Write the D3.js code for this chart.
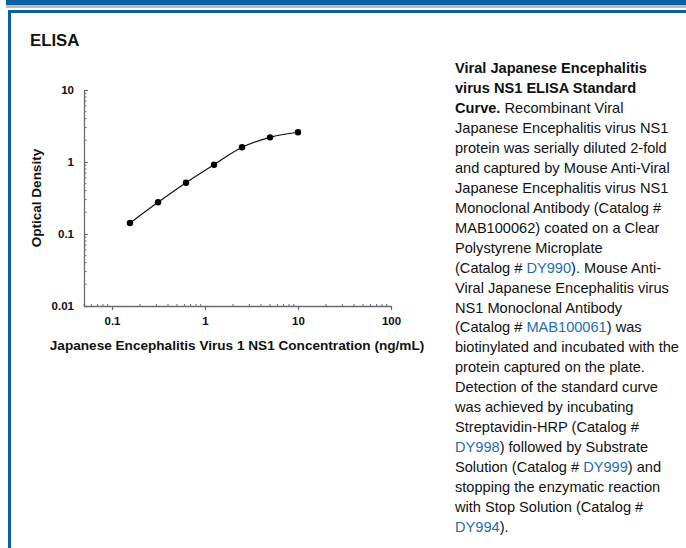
<!DOCTYPE html>
<html>
<head>
<meta charset="utf-8">
<script src="https://cdn.jsdelivr.net/npm/d3@7"></script>
<style>
  html, body { margin: 0; padding: 0; background: #fff; }
  svg { display: block; }
</style>
</head>
<body>
<svg id="chart" width="686" height="548"></svg>
<script>
// ---- data ----
const concentration = [0.156, 0.3125, 0.625, 1.25, 2.5, 5, 10];
const opticalDensity = [0.142, 0.276, 0.516, 0.917, 1.60, 2.20, 2.59];
const xTickValues = [0.1, 1, 10, 100];
const xTickLabels = ["0.1", "1", "10", "100"];
const yTickValues = [0.01, 0.1, 1, 10];
const yTickLabels = ["0.01", "0.1", "1", "10"];
const xDomain = [0.05, 100];
const yDomain = [0.01, 10];
const panelTitle = "ELISA";
const xTitle = "Japanese Encephalitis Virus 1 NS1 Concentration (ng/mL)";
const yTitle = "Optical Density";
// caption lines: segments of [text, style]  (b = bold, n = normal, l = link)
const captionLines = [
  [["Viral Japanese Encephalitis", "b"]],
  [["virus NS1 ELISA Standard", "b"]],
  [["Curve.", "b"], [" Recombinant Viral", "n"]],
  [["Japanese Encephalitis virus NS1", "n"]],
  [["protein was serially diluted 2-fold", "n"]],
  [["and captured by Mouse Anti-Viral", "n"]],
  [["Japanese Encephalitis virus NS1", "n"]],
  [["Monoclonal Antibody (Catalog #", "n"]],
  [["MAB100062) coated on a Clear", "n"]],
  [["Polystyrene Microplate", "n"]],
  [["(Catalog # ", "n"], ["DY990", "l"], ["). Mouse Anti-", "n"]],
  [["Viral Japanese Encephalitis virus", "n"]],
  [["NS1 Monoclonal Antibody", "n"]],
  [["(Catalog # ", "n"], ["MAB100061", "l"], [") was", "n"]],
  [["biotinylated and incubated with the", "n"]],
  [["protein captured on the plate.", "n"]],
  [["Detection of the standard curve", "n"]],
  [["was achieved by incubating", "n"]],
  [["Streptavidin-HRP (Catalog #", "n"]],
  [["DY998", "l"], [") followed by Substrate", "n"]],
  [["Solution (Catalog # ", "n"], ["DY999", "l"], [") and", "n"]],
  [["stopping the enzymatic reaction", "n"]],
  [["with Stop Solution (Catalog #", "n"]],
  [["DY994", "l"], [").", "n"]]
];

// ---- drawing ----
const svg = d3.select("#chart");
const FONT = "'Liberation Sans', Arial, Helvetica, sans-serif";
const BLUE = "#0b5fa5";

// frame
svg.append("rect").attr("x", 6).attr("y", 0).attr("width", 680).attr("height", 5).attr("fill", BLUE);
svg.append("rect").attr("x", 6).attr("y", 5).attr("width", 680).attr("height", 3).attr("fill", "#b9bcc0");
svg.append("rect").attr("x", 8).attr("y", 10).attr("width", 678).attr("height", 3).attr("fill", BLUE);
svg.append("rect").attr("x", 8).attr("y", 10).attr("width", 3).attr("height", 538).attr("fill", BLUE);

svg.append("text").attr("x", 30).attr("y", 46)
  .attr("font-family", FONT).attr("font-weight", "bold").attr("font-size", 16.8)
  .attr("fill", "#111").text(panelTitle);

const x = d3.scaleLog().domain(xDomain).range([84, 391]);
const y = d3.scaleLog().domain(yDomain).range([306, 90]);

const axisColor = "#6b6b6b";

// minor tick values
const xMinor = [];
for (let d = 0.01; d <= 100; d *= 10) for (let k = 2; k <= 9; k++) {
  const v = d * k; if (v > xDomain[0] * 0.999 && v < xDomain[1] && !xTickValues.includes(v)) xMinor.push(v);
}
const yMinor = [];
for (let d = 0.01; d < 10; d *= 10) for (let k = 2; k <= 9; k++) yMinor.push(d * k);

// X axis
const gx = svg.append("g").attr("transform", "translate(0,306)");
gx.call(d3.axisBottom(x).tickValues(xTickValues).tickFormat((d, i) => xTickLabels[i]).tickSize(4).tickSizeOuter(0));
gx.append("g").selectAll("line").data(xMinor).join("line")
  .attr("x1", d => x(d)).attr("x2", d => x(d)).attr("y1", 0).attr("y2", -2)
  .attr("stroke", axisColor);
gx.select(".domain").attr("stroke", axisColor).attr("stroke-width", 1.3);
gx.selectAll(".tick line").attr("stroke", axisColor).attr("stroke-width", 1.2);
gx.selectAll(".tick text").attr("font-family", FONT).attr("font-weight", "bold")
  .attr("font-size", 11.5).attr("fill", "#111").attr("dy", "0.71em").attr("y", 11);

// Y axis
const gy = svg.append("g").attr("transform", "translate(84,0)");
gy.call(d3.axisLeft(y).tickValues(yTickValues).tickFormat((d, i) => yTickLabels[i]).tickSize(0).tickSizeOuter(0).tickPadding(10));
gy.selectAll(".tick").append("line").attr("x1", 0).attr("x2", 4).attr("stroke", axisColor).attr("stroke-width", 1.2);
gy.append("g").selectAll("line").data(yMinor).join("line")
  .attr("y1", d => y(d)).attr("y2", d => y(d)).attr("x1", 0).attr("x2", 2.5)
  .attr("stroke", axisColor);
gy.select(".domain").attr("stroke", axisColor).attr("stroke-width", 1.3);
gy.selectAll(".tick text").attr("font-family", FONT).attr("font-weight", "bold")
  .attr("font-size", 11.5).attr("fill", "#111");

// axis titles
svg.append("text").attr("x", 237).attr("y", 350).attr("text-anchor", "middle")
  .attr("font-family", FONT).attr("font-weight", "bold").attr("font-size", 13.6).attr("fill", "#111")
  .text(xTitle);
svg.append("text").attr("transform", "translate(41,198) rotate(-90)").attr("text-anchor", "middle")
  .attr("font-family", FONT).attr("font-weight", "bold").attr("font-size", 13.5).attr("fill", "#111")
  .text(yTitle);

// curve + points
const pts = concentration.map((c, i) => [c, opticalDensity[i]]);
svg.append("path").datum(pts)
  .attr("d", d3.line().x(d => x(d[0])).y(d => y(d[1])).curve(d3.curveMonotoneX))
  .attr("fill", "none").attr("stroke", "#111").attr("stroke-width", 1.2);
svg.append("g").selectAll("circle").data(pts).join("circle")
  .attr("cx", d => x(d[0])).attr("cy", d => y(d[1])).attr("r", 3.2).attr("fill", "#000");

// caption
const cap = svg.append("g");
captionLines.forEach((segs, i) => {
  const t = cap.append("text").attr("x", 455).attr("y", 73 + i * 19.96)
    .attr("font-family", FONT).attr("font-size", 14.6).attr("fill", "#111");
  segs.forEach(([s, st]) => {
    t.append("tspan").text(s)
      .attr("font-weight", st === "b" ? "bold" : "normal")
      .attr("fill", st === "l" ? "#1f6cb3" : "#111");
  });
});
</script>
</body>
</html>
